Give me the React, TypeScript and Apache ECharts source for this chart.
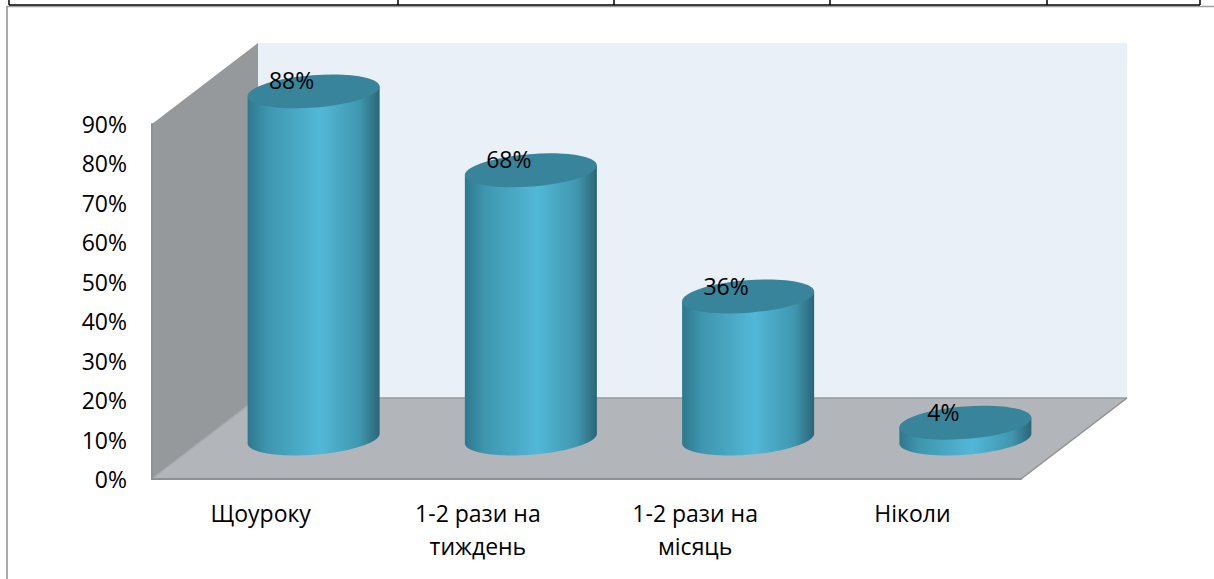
import React, { useEffect, useRef } from "react";
import * as echarts from "echarts";

const categories = ["Щоуроку", "1-2 рази на\nтиждень", "1-2 рази на\nмісяць", "Ніколи"];
const values = [88, 68, 36, 4];
const yTicks = [0, 10, 20, 30, 40, 50, 60, 70, 80, 90];
const tableTicks = [9, 398, 614, 830, 1047, 1200];

const FONT = "'Open Sans', sans-serif";
const DEPTH_X = 106;
const DEPTH_Y = 81;

export default function App() {
  const ref = useRef<HTMLDivElement>(null);
  useEffect(() => {
    document.body.style.margin = "0";
    const chart = echarts.init(ref.current!, null, { renderer: "svg" });
    const A = 66.2, B = 16.2;
    const TH = (-4.5 * Math.PI) / 180;
    const ellipsePoint = (t: number) => [
      A * Math.cos(t) * Math.cos(TH) - B * Math.sin(t) * Math.sin(TH),
      A * Math.cos(t) * Math.sin(TH) + B * Math.sin(t) * Math.cos(TH),
    ];
    const T0 = Math.atan((-B / A) * Math.tan(TH));
    const bodyFill = new echarts.graphic.LinearGradient(0, 0, 1, 0, [
      { offset: 0, color: "#2d788e" },
      { offset: 0.15, color: "#3e96ae" },
      { offset: 0.55, color: "#52b8d7" },
      { offset: 0.85, color: "#3f97af" },
      { offset: 0.97, color: "#2f6f82" },
      { offset: 1, color: "#2c6475" },
    ]);
    const option: any = {
      animation: false,
      backgroundColor: "#fff",
      grid: { left: 152, right: 193, top: 124, bottom: 100 },
      xAxis: {
        type: "category",
        data: categories,
        z: 3,
        axisTick: { show: false },
        axisLine: { lineStyle: { color: "#8e9192", width: 2 } },
        axisLabel: { color: "#000", fontFamily: FONT, fontSize: 23, lineHeight: 33, margin: 17, interval: 0 },
      },
      yAxis: {
        type: "value",
        min: 0,
        max: 90,
        interval: 10,
        z: 3,
        splitLine: { show: false },
        axisTick: { show: false },
        axisLine: { show: true, lineStyle: { color: "#8e9192", width: 2 } },
        axisLabel: {
          color: "#000",
          fontFamily: FONT,
          fontSize: 23,
          margin: 25,
          formatter: (v: number) => (yTicks.includes(v) ? `${v}%` : ""),
        },
      },
      graphic: [
        { type: "line", shape: { x1: 7, y1: 6.5, x2: 1214, y2: 6.5 }, style: { stroke: "#a0a0a0", lineWidth: 1.5 }, z: 5 },
        { type: "line", shape: { x1: 7, y1: 6, x2: 7, y2: 579 }, style: { stroke: "#8f8f8f", lineWidth: 1.5 }, z: 5 },
        { type: "line", shape: { x1: 9, y1: 5, x2: 1200, y2: 5 }, style: { stroke: "#000", lineWidth: 1.5 }, z: 6 },
        ...tableTicks.map((x) => ({
          type: "line",
          shape: { x1: x, y1: 0, x2: x, y2: 5 },
          style: { stroke: "#000", lineWidth: 1.5 },
          z: 6,
        })),
      ],
      series: [
        {
          type: "custom",
          z: 1,
          silent: true,
          data: [[0, 0]],
          renderItem: (params: any) => {
            const c = params.coordSys;
            const l = c.x, r = c.x + c.width, t = c.y, b = c.y + c.height;
            const dx = DEPTH_X, dy = DEPTH_Y;
            const poly = (points: number[][], fill: string) => ({
              type: "polygon",
              shape: { points },
              style: { fill, stroke: "none" },
            });
            const seg = (x1: number, y1: number, x2: number, y2: number, stroke: string) => ({
              type: "line",
              shape: { x1, y1, x2, y2 },
              style: { stroke, lineWidth: 1.5 },
            });
            return {
              type: "group",
              children: [
                poly([[l + dx, t - dy], [r + dx, t - dy], [r + dx, b - dy], [l + dx, b - dy]], "#e9f0f7"),
                poly([[l, t], [l + dx, t - dy], [l + dx, b - dy], [l, b]], "#95999b"),
                poly([[l, b], [l + dx, b - dy], [r + dx, b - dy], [r, b]], "#b2b6ba"),
                seg(l, b, l + dx, b - dy, "#a9adb0"),
                seg(l + dx, b - dy, r + dx, b - dy, "#999c9e"),
                seg(r, b, r + dx, b - dy, "#8e9192"),
              ],
            };
          },
        },
        {
          type: "custom",
          z: 2,
          data: values.map((v, i) => [i, v]),
          encode: { x: 0, y: 1 },
          renderItem: (_: any, api: any) => {
            const [x, y] = api.coord([api.value(0), api.value(1)]);
            const [, y0] = api.coord([api.value(0), 0]);
            const cx = x + DEPTH_X / 2;
            const cyT = y - DEPTH_Y / 2;
            const cyB = y0 - DEPTH_Y / 2;
            const arc: number[][] = [];
            for (let i = 0; i <= 60; i++) {
              const p = ellipsePoint(T0 + (Math.PI * i) / 60);
              arc.push([cx + p[0], cyB + p[1]]);
            }
            const tip = ellipsePoint(T0);
            const points = [[cx + tip[0], cyT + tip[1]], ...arc, [cx - tip[0], cyT - tip[1]]];
            return {
              type: "group",
              children: [
                { type: "polygon", shape: { points }, style: { fill: bodyFill } },
                {
                  type: "ellipse",
                  x: cx,
                  y: cyT,
                  rotation: -TH,
                  shape: { cx: 0, cy: 0, rx: A, ry: B },
                  style: { fill: "#38849a" },
                },
                {
                  type: "text",
                  x: cx - 22,
                  y: cyT - 11,
                  style: {
                    text: `${api.value(1)}%`,
                    fill: "#000",
                    fontFamily: FONT,
                    fontSize: 23,
                    align: "center",
                    verticalAlign: "middle",
                  },
                },
              ],
            };
          },
        },
      ],
    };
    chart.setOption(option);
    return () => chart.dispose();
  }, []);
  return <div ref={ref} style={{ width: 1214, height: 579 }} />;
}
